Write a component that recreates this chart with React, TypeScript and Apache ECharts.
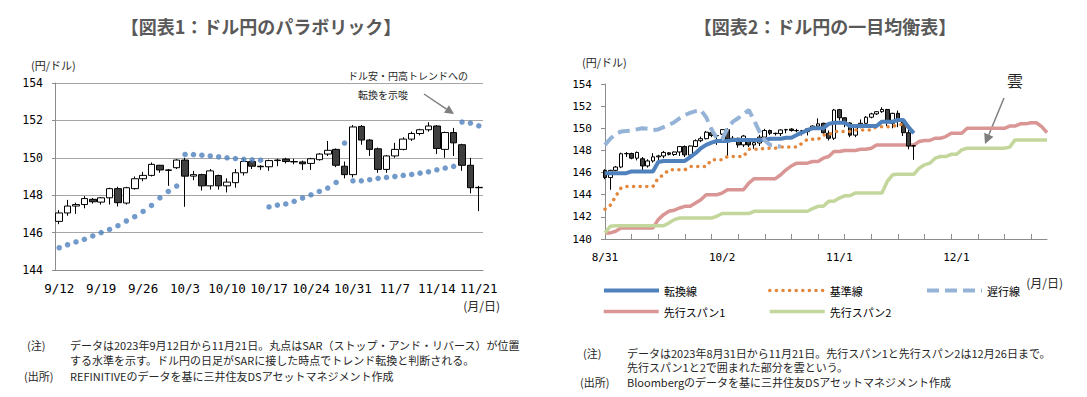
import React, { useEffect, useRef } from 'react';
import * as echarts from 'echarts';

// ---------- helpers for business-day category labels ----------
function bizDays(y: number, m: number, d: number, n: number): string[] {
  const out: string[] = [];
  const dt = new Date(Date.UTC(y, m - 1, d));
  while (out.length < n) {
    const wd = dt.getUTCDay();
    if (wd !== 0 && wd !== 6) out.push(`${dt.getUTCMonth() + 1}/${dt.getUTCDate()}`);
    dt.setUTCDate(dt.getUTCDate() + 1);
  }
  return out;
}

// ---------- Chart 1: parabolic SAR (2023/9/12 - 11/21) ----------
const parDates = bizDays(2023, 9, 12, 51);
const parYTicks = [144, 146, 148, 150, 152, 154];

const parOpen = [
  146.6, 147.05, 147.42, 147.5, 147.78, 147.63, 147.86, 148.35, 147.58, 148.35,
  148.88, 149.06, 149.6, 149.35, 149.47, 149.88, 149.02, 149.1, 148.5, 149.05,
  148.5, 148.67, 149.2, 149.8, 149.55, 149.52, 149.85, 149.93, 149.8, 149.78,
  149.7, 149.9, 150.2, 150.45, 149.55, 149.1, 151.68, 150.95, 150.48, 149.38,
  150.1, 150.45, 151.0, 151.3, 151.5, 151.7, 150.45, 151.35, 150.7, 149.6,
  148.4,
];
const parClose = [
  147.05, 147.42, 147.5, 147.82, 147.65, 147.86, 148.35, 147.6, 148.4, 148.88,
  149.06, 149.65, 149.35, 149.33, 149.88, 149.02, 149.1, 148.5, 149.3, 148.5,
  148.7, 149.2, 149.8, 149.55, 149.52, 149.85, 149.88, 149.8, 149.78, 149.68,
  149.95, 150.2, 150.4, 149.6, 149.1, 151.65, 150.95, 150.45, 149.38, 150.1,
  150.45, 151.0, 151.3, 151.5, 151.7, 150.5, 151.35, 150.8, 149.6, 148.4,
  148.42,
];
const parLow = [
  146.45, 146.9, 147.0, 147.3, 147.55, 147.5, 147.5, 147.4, 147.5, 148.3,
  148.75, 149.0, 149.2, 148.5, 149.4, 147.38, 148.8, 148.25, 148.3, 148.3,
  148.15, 148.4, 149.05, 149.4, 149.35, 149.3, 149.55, 149.7, 149.65, 149.35,
  149.35, 149.85, 150.1, 149.5, 148.9, 148.95, 150.7, 150.1, 149.2, 149.2,
  150.0, 150.4, 150.9, 151.2, 151.4, 150.2, 150.0, 150.1, 149.3, 148.1,
  147.15,
];
const parHigh = [
  147.2, 147.75, 147.6, 147.95, 147.85, 147.9, 148.4, 148.45, 148.45, 149.0,
  149.25, 149.75, 149.62, 149.4, 149.92, 150.0, 149.3, 149.15, 149.4, 149.1,
  148.9, 149.4, 149.95, 149.88, 149.6, 149.9, 149.95, 150.0, 149.95, 149.85,
  150.0, 150.25, 150.9, 150.5, 149.8, 151.75, 151.75, 151.0, 150.55, 150.15,
  150.8, 151.1, 151.4, 151.55, 151.9, 151.75, 151.4, 151.6, 150.75, 150.0,
  148.5,
];
const parSar = [
  145.19, 145.35, 145.5, 145.64, 145.82, 146.0, 146.17, 146.37, 146.62, 146.85,
  147.13, 147.45, 147.86, 148.2, 148.49, 150.18, 150.17, 150.14, 150.1, 150.05,
  150.0, 149.96, 149.92, 149.89, 149.87, 147.37, 147.47, 147.53, 147.67, 147.85,
  148.02, 148.2, 148.38, 148.68, 150.79, 148.77, 148.77, 148.83, 148.9, 148.95,
  149.0, 149.06, 149.11, 149.18, 149.25, 149.36, 149.45, 149.54, 151.91, 151.86,
  151.71,
];

// ---------- Chart 2: Ichimoku (2023/8/31 - 12/26) ----------
const ichiDates = bizDays(2023, 8, 31, 84);
const ichiLabelIdx = [0, 22, 44, 66];
const ichiYTicks = [140, 142, 144, 146, 148, 150, 152, 154];

// 8/31 - 9/11 (before the range of chart 1); from 9/12 the same daily bars
const ichiEarlyOpen = [146.2, 145.55, 146.2, 146.5, 147.7, 147.72, 147.3, 147.25];
const ichiEarlyClose = [145.55, 146.2, 146.5, 147.7, 147.72, 147.3, 147.82, 146.6];
const ichiEarlyLow = [145.4, 144.45, 146.1, 146.4, 147.4, 147.2, 147.1, 146.1];
const ichiEarlyHigh = [146.3, 146.25, 146.6, 147.8, 147.85, 147.8, 147.9, 147.4];

const tenkan = [
  145.95, 145.95, 145.95, 145.95, 145.95, 146.1, 146.1, 146.1, 146.1, 146.1,
  146.95, 147.05, 147.05, 147.05, 147.05, 147.05, 147.4, 147.75, 148.2, 148.5,
  148.7, 148.85, 148.85, 148.85, 148.95, 148.95, 148.95, 148.95, 148.95, 148.95,
  148.95, 149.05, 149.05, 149.05, 149.15, 149.15, 149.4, 149.6, 149.85, 150.0,
  150.0, 150.0, 150.4, 150.5, 150.5, 150.5, 150.2, 150.2, 150.2, 150.2,
  150.2, 150.2, 150.6, 150.6, 150.6, 150.75, 150.75, 150.1, 149.55,
];
const kijun = [
  142.7, 143.05, 143.85, 144.6, 144.75, 144.75, 144.75, 144.75, 144.75, 144.75,
  145.5, 145.8, 146.25, 146.25, 146.25, 146.25, 146.55, 146.55, 146.55, 146.55,
  147.15, 147.15, 147.15, 147.45, 147.45, 147.45, 147.45, 148.1, 148.1, 148.1,
  148.2, 148.2, 148.2, 148.3, 148.3, 148.3, 148.3, 148.65, 149.0, 149.0,
  149.0, 149.4, 149.4, 149.7, 149.7, 149.7, 149.7, 149.85, 149.85, 149.85,
  149.85, 150.15, 150.15, 150.15, 150.15, 150.35, 150.35, 150.1, 149.6,
];
// lagging line (plotted 8/31 - 10/17)
const chikou = [
  148.5, 149.05, 149.5, 149.7, 149.75, 149.8, 149.9, 150.0, 149.95, 149.85,
  149.9, 150.1, 150.3, 150.55, 150.9, 151.2, 151.4, 151.55, 151.65, 151.0,
  149.9, 149.1, 149.0, 150.0, 150.6, 150.9, 151.3, 151.65, 150.7, 149.7,
  148.9, 148.5, 148.4, 148.35,
];
const span1 = [
  140.55, 140.55, 140.7, 141.0, 141.0, 141.0, 141.0, 141.0, 141.0, 141.0,
  141.75, 142.2, 142.5, 142.6, 142.8, 142.95, 142.95, 143.25, 143.55, 144.0,
  144.0, 144.0, 144.15, 144.45, 144.45, 144.45, 144.45, 145.05, 145.45, 145.45,
  145.45, 145.45, 145.45, 145.8, 146.25, 146.6, 146.85, 146.85, 146.85, 147.0,
  147.0, 147.3, 147.45, 147.9, 147.9, 148.0, 148.0, 148.0, 148.1, 148.1,
  148.2, 148.5, 148.5, 148.5, 148.5, 148.5, 148.5, 148.5, 148.5, 148.8,
  148.9, 148.9, 149.1, 149.1, 149.25, 149.55, 149.55, 149.55, 150.0, 150.0,
  150.0, 150.0, 150.0, 150.0, 150.0, 150.0, 150.2, 150.2, 150.4, 150.4,
  150.5, 150.5, 150.15, 149.6,
];
const span2 = [
  140.55, 141.15, 141.2, 141.2, 141.2, 141.2, 141.2, 141.2, 141.2, 141.2,
  141.2, 141.2, 141.45, 141.75, 141.9, 141.9, 141.9, 141.9, 141.9, 141.9,
  141.9, 142.05, 142.3, 142.3, 142.3, 142.3, 142.3, 142.3, 142.5, 142.5,
  142.5, 142.5, 142.5, 142.5, 142.5, 142.5, 142.5, 142.5, 142.5, 142.75,
  142.95, 142.95, 143.4, 143.4, 143.7, 143.9, 143.9, 144.15, 144.15, 144.15,
  144.15, 144.15, 144.15, 145.2, 145.8, 145.85, 145.85, 145.85, 145.85, 146.4,
  146.7, 146.85, 147.3, 147.45, 147.45, 147.65, 147.65, 148.05, 148.2, 148.2,
  148.2, 148.2, 148.2, 148.2, 148.2, 148.2, 148.3, 148.95, 148.95, 148.95,
  148.95, 148.95, 148.95, 148.95,
];

const NOTE_FONT = '"Noto Sans CJK JP", sans-serif';
const MONO = '"DejaVu Sans Mono", monospace';

function arrow(x1: number, y1: number, tx: number, ty: number, len: number, half: number) {
  const dx = tx - x1, dy = ty - y1;
  const L = Math.hypot(dx, dy);
  const ux = dx / L, uy = dy / L;
  const bx = tx - ux * len, by = ty - uy * len;
  const px = -uy, py = ux;
  return [
    { type: 'line', shape: { x1, y1, x2: bx, y2: by }, style: { stroke: '#7f7f7f', lineWidth: 1.5 } },
    {
      type: 'polygon',
      shape: { points: [[tx, ty], [bx + px * half, by + py * half], [bx - px * half, by - py * half]] },
      style: { fill: '#7f7f7f' },
    },
  ];
}

function txt(x: number, y: number, text: string, size: number, extra: any = {}) {
  return {
    type: 'text',
    x,
    y,
    style: { text, fontSize: size, fontFamily: NOTE_FONT, fill: '#262626', textVerticalAlign: 'middle', ...extra },
  };
}

export default function App() {
  const ref = useRef<HTMLDivElement>(null);

  useEffect(() => {
    document.body.style.margin = '0';
    if (!ref.current) return;
    const chart = echarts.init(ref.current, null, { renderer: 'svg' });

    const parCandles = parOpen.map((o, i) => [o, parClose[i], parLow[i], parHigh[i]]);
    const rOpen = ichiEarlyOpen.concat(parOpen);
    const rClose = ichiEarlyClose.concat(parClose);
    const rLow = ichiEarlyLow.concat(parLow);
    const rHigh = ichiEarlyHigh.concat(parHigh);
    const ichiCandles = rOpen.map((o, i) => [o, rClose[i], rLow[i], rHigh[i]]);

    const candleStyle = {
      color: '#ffffff',
      color0: '#3f3f3f',
      borderColor: '#000000',
      borderColor0: '#000000',
      borderWidth: 1,
    };

    const legendBase = {
      itemWidth: 55,
      itemHeight: 12,
      itemStyle: { opacity: 0 },
      textStyle: { fontSize: 11, fontFamily: NOTE_FONT, color: '#000' },
      selectedMode: false,
      padding: 0,
    };

    const option: any = {
      animation: false,
      title: [
        {
          text: '【図表1：ドル円のパラボリック】',
          left: 256,
          top: 12,
          textAlign: 'center',
          textStyle: { fontSize: 18, fontWeight: 'bold', color: '#595959', fontFamily: NOTE_FONT },
        },
        {
          text: '【図表2：ドル円の一目均衡表】',
          left: 820,
          top: 12,
          textAlign: 'center',
          textStyle: { fontSize: 18, fontWeight: 'bold', color: '#595959', fontFamily: NOTE_FONT },
        },
      ],
      legend: [
        { ...legendBase, data: ['転換線'], left: 602, top: 285, lineStyle: { width: 4 } },
        { ...legendBase, data: ['基準線'], left: 768, top: 285, lineStyle: { width: 3.5 } },
        { ...legendBase, data: ['遅行線'], left: 925, top: 285, lineStyle: { width: 4 } },
        { ...legendBase, data: ['先行スパン1'], left: 602, top: 306, lineStyle: { width: 3.5 } },
        { ...legendBase, data: ['先行スパン2'], left: 768, top: 306, lineStyle: { width: 3.5 } },
      ],
      grid: [
        { left: 55, right: 1087 - 483, top: 83, bottom: 397 - 270 },
        { left: 605, right: 1087 - 1047, top: 84, bottom: 397 - 239 },
      ],
      xAxis: [
        {
          type: 'category',
          gridIndex: 0,
          data: parDates,
          boundaryGap: true,
          axisLine: { lineStyle: { color: '#8c8c8c' } },
          axisTick: { inside: true, length: 4, interval: 4, lineStyle: { color: '#8c8c8c' } },
          axisLabel: { interval: 4, fontSize: 12.5, fontFamily: MONO, color: '#000', margin: 12 },
        },
        {
          type: 'category',
          gridIndex: 1,
          data: ichiDates,
          boundaryGap: false,
          axisLine: { lineStyle: { color: '#8c8c8c' } },
          axisTick: { inside: true, length: 5, interval: (i: number) => i % 5 === 0, lineStyle: { color: '#8c8c8c' } },
          axisLabel: {
            interval: (i: number) => ichiLabelIdx.indexOf(i) >= 0,
            fontSize: 11,
            fontFamily: MONO,
            color: '#000',
            margin: 13,
          },
        },
      ],
      yAxis: [
        {
          type: 'value',
          gridIndex: 0,
          min: parYTicks[0],
          max: parYTicks[parYTicks.length - 1],
          interval: 2,
          axisLine: { show: true, lineStyle: { color: '#8c8c8c' } },
          axisTick: { show: true, length: 3, lineStyle: { color: '#8c8c8c' } },
          splitLine: { show: true, lineStyle: { color: '#a6a6a6', width: 1 } },
          axisLabel: { fontSize: 11.5, fontFamily: MONO, color: '#000', margin: 12 },
        },
        {
          type: 'value',
          gridIndex: 1,
          min: ichiYTicks[0],
          max: ichiYTicks[ichiYTicks.length - 1],
          interval: 2,
          axisLine: { show: true, lineStyle: { color: '#8c8c8c' } },
          axisTick: { show: true, length: 4, lineStyle: { color: '#8c8c8c' } },
          splitLine: { show: false },
          axisLabel: { fontSize: 11, fontFamily: MONO, color: '#000', margin: 13 },
        },
      ],
      series: [
        {
          name: 'ドル円',
          type: 'candlestick',
          xAxisIndex: 0,
          yAxisIndex: 0,
          data: parCandles,
          barWidth: '84%',
          itemStyle: candleStyle,
          z: 2,
        },
        {
          name: 'SAR',
          type: 'scatter',
          xAxisIndex: 0,
          yAxisIndex: 0,
          data: parSar,
          symbolSize: 5.5,
          itemStyle: { color: '#4f81bd' },
          z: 3,
        },
        {
          name: '先行スパン1',
          type: 'line',
          xAxisIndex: 1,
          yAxisIndex: 1,
          data: span1,
          symbol: 'none',
          lineStyle: { color: '#d99694', width: 3.5 },
          z: 2,
        },
        {
          name: '先行スパン2',
          type: 'line',
          xAxisIndex: 1,
          yAxisIndex: 1,
          data: span2,
          symbol: 'none',
          lineStyle: { color: '#c3d69b', width: 3.5 },
          z: 2,
        },
        {
          name: 'ドル円2',
          type: 'candlestick',
          xAxisIndex: 1,
          yAxisIndex: 1,
          data: ichiCandles,
          barWidth: '80%',
          itemStyle: candleStyle,
          z: 3,
        },
        {
          name: '基準線',
          type: 'line',
          xAxisIndex: 1,
          yAxisIndex: 1,
          data: kijun,
          symbol: 'none',
          lineStyle: { color: '#e3873c', width: 3.5, type: [0.1, 6.5], cap: 'round' },
          z: 4,
        },
        {
          name: '転換線',
          type: 'line',
          xAxisIndex: 1,
          yAxisIndex: 1,
          data: tenkan,
          symbol: 'none',
          lineStyle: { color: '#4f81bd', width: 4 },
          z: 4,
        },
        {
          name: '遅行線',
          type: 'line',
          xAxisIndex: 1,
          yAxisIndex: 1,
          data: chikou,
          symbol: 'none',
          lineStyle: { color: '#95b3d7', width: 4, type: [12, 6] },
          z: 4,
        },
      ],
      graphic: [
        txt(31, 65, '(円/ドル)', 11),
        txt(582, 62, '(円/ドル)', 11),
        txt(500, 305, '(月/日)', 12, { textAlign: 'right' }),
        txt(1063, 282, '(月/日)', 12, { textAlign: 'right' }),
        txt(348, 75, 'ドル安・円高トレンドへの', 10),
        txt(358, 94, '転換を示唆', 10),
        ...arrow(424, 94, 454, 114, 9, 4.5),
        txt(1015, 80, '雲', 16, { textAlign: 'center' }),
        ...arrow(1004, 98, 985, 144, 10, 5),
        txt(27, 345, '(注)', 11),
        txt(70, 345, 'データは2023年9月12日から11月21日。丸点はSAR（ストップ・アンド・リバース）が位置', 11),
        txt(70, 360, 'する水準を示す。ドル円の日足がSARに接した時点でトレンド転換と判断される。', 11),
        txt(24, 376, '(出所)', 11),
        txt(70, 376, 'REFINITIVEのデータを基に三井住友DSアセットマネジメント作成', 11),
        txt(583, 353, '(注)', 11),
        txt(627, 353, 'データは2023年8月31日から11月21日。先行スパン1と先行スパン2は12月26日まで。', 11),
        txt(627, 367, '先行スパン1と2で囲まれた部分を雲という。', 11),
        txt(580, 382, '(出所)', 11),
        txt(627, 382, 'Bloombergのデータを基に三井住友DSアセットマネジメント作成', 11),
      ],
    };

    chart.setOption(option);
    return () => chart.dispose();
  }, []);

  return <div ref={ref} style={{ width: 1087, height: 397 }} />;
}
